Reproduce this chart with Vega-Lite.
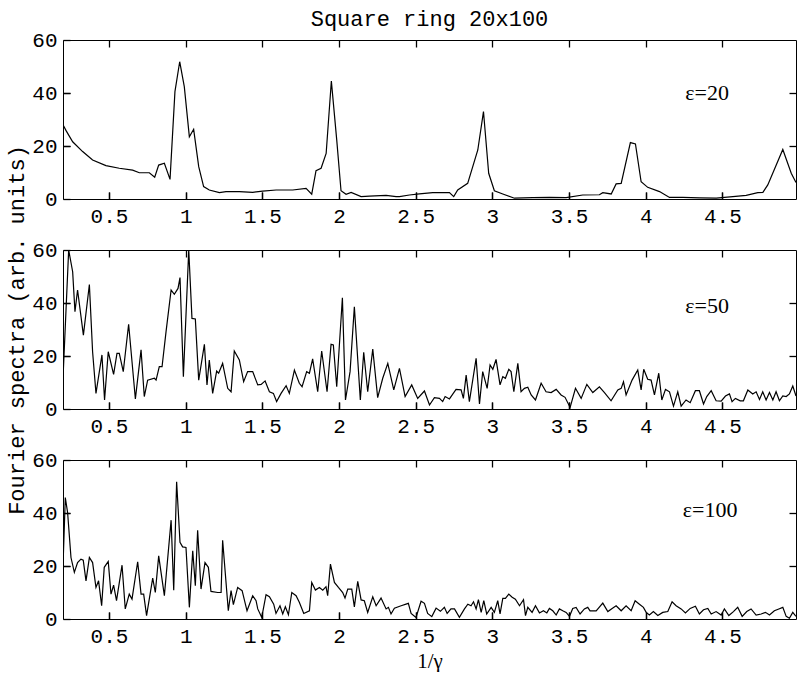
{
"$schema": "https://vega.github.io/schema/vega-lite/v6.json",
"background": "white",
"padding": {"left": 5, "top": 7, "right": 0, "bottom": 0},
"config": {
  "view": {"stroke": "black", "strokeWidth": 1},
  "axis": {"grid": false, "domain": false, "ticks": true, "zindex": 2, "tickColor": "black", "tickOpacity": 1, "tickWidth": 1.3, "tickSize": 7, "offset": -7, "labelFont": "Liberation Mono", "labelFontSize": 21, "labelColor": "black", "titleColor": "black", "labelFontWeight": "normal"},
  "title": {"font": "Liberation Mono", "fontSize": 22, "fontWeight": "normal", "color": "black"}
},
"datasets": {
"p20": [{"x":0.2,"y":28},{"x":0.22,"y":25.8},{"x":0.263,"y":21.6},{"x":0.328,"y":17.9},{"x":0.393,"y":14.7},{"x":0.48,"y":12.6},{"x":0.567,"y":11.6},{"x":0.654,"y":10.9},{"x":0.698,"y":9.9},{"x":0.763,"y":9.9},{"x":0.798,"y":8.2},{"x":0.824,"y":12.8},{"x":0.861,"y":13.5},{"x":0.898,"y":7.4},{"x":0.93,"y":40.5},{"x":0.961,"y":51.8},{"x":0.991,"y":42.4},{"x":1.024,"y":23.5},{"x":1.052,"y":26.3},{"x":1.085,"y":12.2},{"x":1.117,"y":4.7},{"x":1.154,"y":3.4},{"x":1.22,"y":2.4},{"x":1.263,"y":2.8},{"x":1.35,"y":2.8},{"x":1.437,"y":2.5},{"x":1.502,"y":3},{"x":1.59,"y":3.4},{"x":1.698,"y":3.4},{"x":1.785,"y":4.0},{"x":1.822,"y":1.8},{"x":1.85,"y":10.7},{"x":1.883,"y":11.6},{"x":1.916,"y":17.2},{"x":1.95,"y":44.5},{"x":1.985,"y":22.3},{"x":2.013,"y":3.1},{"x":2.046,"y":1.8},{"x":2.079,"y":2.5},{"x":2.144,"y":0.9},{"x":2.198,"y":1.1},{"x":2.307,"y":1.4},{"x":2.372,"y":0.9},{"x":2.394,"y":0.9},{"x":2.459,"y":1.5},{"x":2.524,"y":1.9},{"x":2.611,"y":2.4},{"x":2.72,"y":2.4},{"x":2.748,"y":0.9},{"x":2.774,"y":3.4},{"x":2.839,"y":5.9},{"x":2.905,"y":18.5},{"x":2.942,"y":33},{"x":2.976,"y":9.7},{"x":3.013,"y":3.1},{"x":3.068,"y":1.9},{"x":3.144,"y":0.3},{"x":3.263,"y":0.5},{"x":3.372,"y":0.6},{"x":3.481,"y":0.5},{"x":3.589,"y":1.5},{"x":3.698,"y":1.6},{"x":3.72,"y":2.4},{"x":3.775,"y":1.9},{"x":3.807,"y":5.7},{"x":3.84,"y":5.9},{"x":3.9,"y":21.3},{"x":3.933,"y":20.8},{"x":3.97,"y":6.5},{"x":4.013,"y":4.4},{"x":4.09,"y":2.8},{"x":4.155,"y":0.6},{"x":4.242,"y":0.6},{"x":4.351,"y":0.4},{"x":4.46,"y":0.3},{"x":4.568,"y":0.9},{"x":4.655,"y":1.4},{"x":4.731,"y":2.4},{"x":4.764,"y":2.5},{"x":4.796,"y":5.3},{"x":4.894,"y":18.7},{"x":4.949,"y":9.7},{"x":4.98,"y":6.2}],
"p50": [{"x":0.2,"y":11.6},{"x":0.237,"y":60},{"x":0.263,"y":51.8},{"x":0.278,"y":36.7},{"x":0.295,"y":44.9},{"x":0.333,"y":27.9},{"x":0.372,"y":47},{"x":0.393,"y":21.6},{"x":0.415,"y":5.9},{"x":0.454,"y":20.4},{"x":0.471,"y":3.4},{"x":0.495,"y":21.6},{"x":0.53,"y":13.1},{"x":0.552,"y":21},{"x":0.567,"y":21},{"x":0.593,"y":14.1},{"x":0.628,"y":32},{"x":0.672,"y":3.8},{"x":0.709,"y":22.3},{"x":0.73,"y":4.7},{"x":0.752,"y":10.9},{"x":0.796,"y":11.6},{"x":0.807,"y":10.9},{"x":0.828,"y":16},{"x":0.846,"y":16},{"x":0.872,"y":29.2},{"x":0.905,"y":44.9},{"x":0.926,"y":43.3},{"x":0.95,"y":45.5},{"x":0.963,"y":49.6},{"x":0.985,"y":12.2},{"x":1.02,"y":60},{"x":1.041,"y":34.2},{"x":1.063,"y":34},{"x":1.085,"y":10.9},{"x":1.122,"y":24.4},{"x":1.139,"y":9.1},{"x":1.154,"y":18.5},{"x":1.176,"y":5.9},{"x":1.202,"y":14.3},{"x":1.215,"y":13.5},{"x":1.241,"y":17.2},{"x":1.274,"y":7.8},{"x":1.296,"y":6.5},{"x":1.317,"y":21.9},{"x":1.35,"y":18.5},{"x":1.378,"y":10.3},{"x":1.404,"y":14.1},{"x":1.437,"y":14.1},{"x":1.47,"y":9.1},{"x":1.492,"y":9.3},{"x":1.518,"y":10.6},{"x":1.546,"y":6.5},{"x":1.572,"y":5.9},{"x":1.593,"y":2.8},{"x":1.622,"y":5.9},{"x":1.655,"y":8.8},{"x":1.676,"y":5.9},{"x":1.709,"y":14.7},{"x":1.741,"y":9.7},{"x":1.759,"y":8.4},{"x":1.789,"y":14.1},{"x":1.807,"y":13.5},{"x":1.828,"y":18.9},{"x":1.861,"y":6.5},{"x":1.887,"y":21.9},{"x":1.922,"y":6.5},{"x":1.948,"y":24.4},{"x":1.963,"y":24.2},{"x":1.985,"y":8.4},{"x":2.022,"y":42},{"x":2.042,"y":3.4},{"x":2.072,"y":14.1},{"x":2.1,"y":38.6},{"x":2.139,"y":3.4},{"x":2.161,"y":21.4},{"x":2.187,"y":6.5},{"x":2.22,"y":22.6},{"x":2.252,"y":4.3},{"x":2.285,"y":11.6},{"x":2.318,"y":17.2},{"x":2.357,"y":7.2},{"x":2.394,"y":15.3},{"x":2.431,"y":4.7},{"x":2.474,"y":9.1},{"x":2.513,"y":4.0},{"x":2.557,"y":6.8},{"x":2.59,"y":1.5},{"x":2.622,"y":4.3},{"x":2.655,"y":4.0},{"x":2.676,"y":2.8},{"x":2.692,"y":4.7},{"x":2.72,"y":3.8},{"x":2.763,"y":7.4},{"x":2.796,"y":7.2},{"x":2.811,"y":4.0},{"x":2.829,"y":12.8},{"x":2.85,"y":2.8},{"x":2.894,"y":19.1},{"x":2.916,"y":1.9},{"x":2.937,"y":14.1},{"x":2.966,"y":7.8},{"x":2.985,"y":16.6},{"x":3.003,"y":15},{"x":3.024,"y":18.7},{"x":3.05,"y":9.1},{"x":3.068,"y":12.2},{"x":3.085,"y":11.6},{"x":3.107,"y":15},{"x":3.122,"y":14.1},{"x":3.14,"y":6.5},{"x":3.166,"y":17.2},{"x":3.187,"y":6.5},{"x":3.209,"y":7.8},{"x":3.231,"y":8.2},{"x":3.253,"y":5.3},{"x":3.281,"y":3.4},{"x":3.318,"y":9.7},{"x":3.35,"y":6.5},{"x":3.383,"y":6.2},{"x":3.416,"y":7.4},{"x":3.448,"y":5.3},{"x":3.474,"y":4.4},{"x":3.507,"y":0.6},{"x":3.542,"y":7.8},{"x":3.579,"y":4.0},{"x":3.616,"y":9.3},{"x":3.655,"y":6.2},{"x":3.698,"y":8.4},{"x":3.731,"y":6.2},{"x":3.774,"y":3.1},{"x":3.818,"y":7.2},{"x":3.84,"y":7.8},{"x":3.855,"y":10.3},{"x":3.872,"y":5.3},{"x":3.911,"y":10.9},{"x":3.948,"y":14.7},{"x":3.97,"y":7.2},{"x":3.987,"y":15},{"x":4.013,"y":11.2},{"x":4.035,"y":10.9},{"x":4.057,"y":5.3},{"x":4.085,"y":13.5},{"x":4.105,"y":3.4},{"x":4.129,"y":7.4},{"x":4.155,"y":6.5},{"x":4.181,"y":1.1},{"x":4.209,"y":6.5},{"x":4.231,"y":1.1},{"x":4.263,"y":3.4},{"x":4.29,"y":2.4},{"x":4.324,"y":6.9},{"x":4.35,"y":6.9},{"x":4.377,"y":1.9},{"x":4.398,"y":4.7},{"x":4.427,"y":6.9},{"x":4.459,"y":3.1},{"x":4.492,"y":3.0},{"x":4.52,"y":4.9},{"x":4.546,"y":5.7},{"x":4.563,"y":2.8},{"x":4.585,"y":4.0},{"x":4.616,"y":3.1},{"x":4.637,"y":3.1},{"x":4.666,"y":7.2},{"x":4.698,"y":5.7},{"x":4.72,"y":6.5},{"x":4.742,"y":3.6},{"x":4.763,"y":6.5},{"x":4.785,"y":3.4},{"x":4.807,"y":6.2},{"x":4.829,"y":3.4},{"x":4.85,"y":6.5},{"x":4.872,"y":3.1},{"x":4.894,"y":4.9},{"x":4.916,"y":4.7},{"x":4.937,"y":5.7},{"x":4.959,"y":8.7},{"x":4.98,"y":4.9}],
"p100": [{"x":0.2,"y":20},{"x":0.215,"y":45.8},{"x":0.23,"y":40.2},{"x":0.252,"y":23.2},{"x":0.274,"y":17.6},{"x":0.295,"y":21.3},{"x":0.317,"y":22.6},{"x":0.332,"y":22.2},{"x":0.35,"y":14.4},{"x":0.372,"y":23.2},{"x":0.393,"y":21.3},{"x":0.415,"y":11.9},{"x":0.432,"y":14.4},{"x":0.452,"y":5.0},{"x":0.469,"y":19.5},{"x":0.495,"y":21.7},{"x":0.513,"y":9.4},{"x":0.53,"y":12.8},{"x":0.549,"y":6.9},{"x":0.585,"y":20.3},{"x":0.606,"y":3.8},{"x":0.632,"y":9.4},{"x":0.65,"y":7.5},{"x":0.687,"y":21.6},{"x":0.709,"y":9.4},{"x":0.726,"y":9.4},{"x":0.745,"y":1.3},{"x":0.785,"y":15.4},{"x":0.802,"y":10.0},{"x":0.824,"y":23.8},{"x":0.861,"y":8.8},{"x":0.905,"y":37.3},{"x":0.922,"y":10.9},{"x":0.941,"y":51.8},{"x":0.963,"y":28.9},{"x":0.98,"y":27.2},{"x":1.002,"y":27},{"x":1.024,"y":4.4},{"x":1.046,"y":25.7},{"x":1.063,"y":12.6},{"x":1.078,"y":33.5},{"x":1.1,"y":11.3},{"x":1.126,"y":21.3},{"x":1.148,"y":19.5},{"x":1.165,"y":10.4},{"x":1.209,"y":10},{"x":1.231,"y":10},{"x":1.241,"y":29.7},{"x":1.278,"y":3.1},{"x":1.296,"y":10.7},{"x":1.311,"y":5.4},{"x":1.339,"y":11.9},{"x":1.368,"y":10.7},{"x":1.4,"y":3.1},{"x":1.437,"y":8.8},{"x":1.459,"y":6.9},{"x":1.47,"y":3.8},{"x":1.496,"y":0.6},{"x":1.524,"y":9.2},{"x":1.546,"y":8.4},{"x":1.574,"y":5.6},{"x":1.589,"y":2.1},{"x":1.615,"y":5.0},{"x":1.633,"y":1.9},{"x":1.65,"y":4.6},{"x":1.67,"y":1.6},{"x":1.692,"y":10},{"x":1.72,"y":8.8},{"x":1.741,"y":6.3},{"x":1.77,"y":2.1},{"x":1.807,"y":3.1},{"x":1.822,"y":13.8},{"x":1.846,"y":10.9},{"x":1.872,"y":11.9},{"x":1.894,"y":10.9},{"x":1.915,"y":12.2},{"x":1.926,"y":8.8},{"x":1.944,"y":20.7},{"x":1.97,"y":13.8},{"x":1.996,"y":11.9},{"x":2.024,"y":10},{"x":2.039,"y":7.9},{"x":2.057,"y":11.3},{"x":2.083,"y":11.3},{"x":2.1,"y":4.6},{"x":2.122,"y":14.2},{"x":2.144,"y":7.2},{"x":2.165,"y":6.9},{"x":2.187,"y":2.5},{"x":2.22,"y":8.4},{"x":2.242,"y":5.0},{"x":2.274,"y":7.9},{"x":2.307,"y":3.8},{"x":2.322,"y":4.4},{"x":2.339,"y":1.9},{"x":2.361,"y":4.1},{"x":2.405,"y":5.0},{"x":2.437,"y":5.6},{"x":2.452,"y":5.9},{"x":2.47,"y":2.1},{"x":2.502,"y":0.6},{"x":2.535,"y":6.7},{"x":2.557,"y":5.9},{"x":2.578,"y":2.1},{"x":2.605,"y":0.9},{"x":2.633,"y":4.1},{"x":2.661,"y":2.9},{"x":2.687,"y":4.4},{"x":2.705,"y":2.1},{"x":2.73,"y":3.8},{"x":2.753,"y":3.8},{"x":2.785,"y":0.6},{"x":2.818,"y":3.8},{"x":2.84,"y":5.6},{"x":2.861,"y":5.0},{"x":2.877,"y":6.5},{"x":2.894,"y":3.8},{"x":2.909,"y":7.3},{"x":2.927,"y":2.5},{"x":2.944,"y":6.9},{"x":2.963,"y":1.9},{"x":2.992,"y":4.4},{"x":3.013,"y":2.5},{"x":3.035,"y":6.9},{"x":3.05,"y":1.9},{"x":3.068,"y":7.8},{"x":3.085,"y":7.8},{"x":3.107,"y":9.4},{"x":3.129,"y":8.2},{"x":3.15,"y":7.5},{"x":3.177,"y":5.0},{"x":3.203,"y":7.3},{"x":3.216,"y":1.3},{"x":3.231,"y":4.4},{"x":3.259,"y":2.5},{"x":3.281,"y":5.0},{"x":3.307,"y":2.3},{"x":3.333,"y":3.1},{"x":3.355,"y":2.3},{"x":3.372,"y":4.0},{"x":3.394,"y":3.1},{"x":3.416,"y":1.5},{"x":3.437,"y":3.8},{"x":3.459,"y":3.1},{"x":3.481,"y":2.5},{"x":3.503,"y":1.0},{"x":3.524,"y":4.0},{"x":3.546,"y":4.4},{"x":3.572,"y":1.9},{"x":3.6,"y":3.8},{"x":3.622,"y":4.4},{"x":3.637,"y":3.1},{"x":3.677,"y":3.1},{"x":3.72,"y":6.0},{"x":3.753,"y":2.8},{"x":3.781,"y":4.0},{"x":3.807,"y":5.0},{"x":3.84,"y":3.1},{"x":3.872,"y":5.0},{"x":3.905,"y":3.1},{"x":3.931,"y":6.9},{"x":3.959,"y":5.6},{"x":3.985,"y":4.4},{"x":4.003,"y":2.5},{"x":4.024,"y":1.5},{"x":4.05,"y":2.8},{"x":4.079,"y":1.3},{"x":4.111,"y":2.5},{"x":4.144,"y":2.8},{"x":4.172,"y":6.5},{"x":4.198,"y":5.0},{"x":4.231,"y":3.8},{"x":4.259,"y":2.3},{"x":4.29,"y":4.0},{"x":4.324,"y":4.8},{"x":4.35,"y":1.9},{"x":4.377,"y":3.5},{"x":4.405,"y":4.0},{"x":4.427,"y":1.9},{"x":4.459,"y":2.8},{"x":4.492,"y":1.5},{"x":4.513,"y":3.8},{"x":4.542,"y":1.3},{"x":4.572,"y":2.8},{"x":4.6,"y":4.4},{"x":4.629,"y":1.0},{"x":4.659,"y":2.8},{"x":4.687,"y":3.8},{"x":4.72,"y":1.5},{"x":4.753,"y":1.9},{"x":4.781,"y":2.5},{"x":4.807,"y":1.5},{"x":4.839,"y":3.1},{"x":4.868,"y":3.8},{"x":4.894,"y":4.4},{"x":4.916,"y":1.0},{"x":4.937,"y":0.3},{"x":4.959,"y":2.5},{"x":4.98,"y":1.0}]
},
"spacing": 51,
"bounds": "flush",
"vconcat": [
{
  "width": 733, "height": 159,
  "title": {"text": "Square ring 20x100", "frame": "group", "anchor": "middle", "offset": -2},
  "layer": [
    {"data": {"name": "p20"}, "mark": {"type": "line", "color": "black", "strokeWidth": 1.2, "clip": true},
     "encoding": {
       "x": {"field": "x", "type": "quantitative", "scale": {"domain": [0.2, 4.98], "nice": false, "zero": false}, "axis": {"orient": "bottom", "values": [0.5,1,1.5,2,2.5,3,3.5,4,4.5], "format": "~g", "labelPadding": 6, "title": null}},
       "y": {"field": "y", "type": "quantitative", "scale": {"domain": [0, 60], "nice": false}, "axis": {"orient": "left", "values": [0,20,40,60], "labelPadding": 6, "title": null}}
     }},
    {"data": {"values": [{}]}, "mark": {"type": "text", "font": "Liberation Serif", "fontSize": 22, "color": "black"},
     "encoding": {
       "x": {"datum": 4.4, "type": "quantitative", "axis": {"orient": "top", "values": [0.5,1,1.5,2,2.5,3,3.5,4,4.5], "labels": false, "title": null}},
       "y": {"datum": 40, "type": "quantitative", "axis": {"orient": "right", "values": [20,40], "labels": false, "title": null}},
       "text": {"value": "ε=20"}
     }},
    {"data": {"values": [{}]}, "mark": {"type": "text", "fontSize": 1, "color": "black"},
     "encoding": {
       "x": {"datum": 4.4, "type": "quantitative", "axis": {"orient": "bottom", "values": [0.5,1,1.5,2,2.5,3,3.5,4,4.5], "labels": false, "title": null}},
       "y": {"datum": 40, "type": "quantitative", "axis": {"orient": "left", "values": [20,40], "labels": false, "title": null}},
       "text": {"value": ""}
     }}
  ],
  "resolve": {"axis": {"x": "independent", "y": "independent"}}
},
{
  "width": 733, "height": 159,
  "layer": [
    {"data": {"name": "p50"}, "mark": {"type": "line", "color": "black", "strokeWidth": 1.2, "clip": true},
     "encoding": {
       "x": {"field": "x", "type": "quantitative", "scale": {"domain": [0.2, 4.98], "nice": false, "zero": false}, "axis": {"orient": "bottom", "values": [0.5,1,1.5,2,2.5,3,3.5,4,4.5], "format": "~g", "labelPadding": 6, "title": null}},
       "y": {"field": "y", "type": "quantitative", "scale": {"domain": [0, 60], "nice": false}, "axis": {"orient": "left", "values": [0,20,40,60], "labelPadding": 6, "title": "Fourier spectra (arb. units)", "titleFont": "Liberation Mono", "titleFontSize": 22, "titleFontWeight": "normal", "titlePadding": 3}}
     }},
    {"data": {"values": [{}]}, "mark": {"type": "text", "font": "Liberation Serif", "fontSize": 22, "color": "black"},
     "encoding": {
       "x": {"datum": 4.4, "type": "quantitative", "axis": {"orient": "top", "values": [0.5,1,1.5,2,2.5,3,3.5,4,4.5], "labels": false, "title": null}},
       "y": {"datum": 39, "type": "quantitative", "axis": {"orient": "right", "values": [20,40], "labels": false, "title": null}},
       "text": {"value": "ε=50"}
     }},
    {"data": {"values": [{}]}, "mark": {"type": "text", "fontSize": 1, "color": "black"},
     "encoding": {
       "x": {"datum": 4.4, "type": "quantitative", "axis": {"orient": "bottom", "values": [0.5,1,1.5,2,2.5,3,3.5,4,4.5], "labels": false, "title": null}},
       "y": {"datum": 40, "type": "quantitative", "axis": {"orient": "left", "values": [20,40], "labels": false, "title": null}},
       "text": {"value": ""}
     }}
  ],
  "resolve": {"axis": {"x": "independent", "y": "independent"}}
},
{
  "width": 733, "height": 159,
  "layer": [
    {"data": {"name": "p100"}, "mark": {"type": "line", "color": "black", "strokeWidth": 1.2, "clip": true},
     "encoding": {
       "x": {"field": "x", "type": "quantitative", "scale": {"domain": [0.2, 4.98], "nice": false, "zero": false}, "axis": {"orient": "bottom", "values": [0.5,1,1.5,2,2.5,3,3.5,4,4.5], "format": "~g", "labelPadding": 6, "title": "1/γ", "titleFont": "Liberation Serif", "titleFontSize": 21, "titleFontWeight": "normal", "titlePadding": 4}},
       "y": {"field": "y", "type": "quantitative", "scale": {"domain": [0, 60], "nice": false}, "axis": {"orient": "left", "values": [0,20,40,60], "labelPadding": 6, "title": null}}
     }},
    {"data": {"values": [{}]}, "mark": {"type": "text", "font": "Liberation Serif", "fontSize": 22, "color": "black"},
     "encoding": {
       "x": {"datum": 4.42, "type": "quantitative", "axis": {"orient": "top", "values": [0.5,1,1.5,2,2.5,3,3.5,4,4.5], "labels": false, "title": null}},
       "y": {"datum": 41, "type": "quantitative", "axis": {"orient": "right", "values": [20,40], "labels": false, "title": null}},
       "text": {"value": "ε=100"}
     }},
    {"data": {"values": [{}]}, "mark": {"type": "text", "fontSize": 1, "color": "black"},
     "encoding": {
       "x": {"datum": 4.4, "type": "quantitative", "axis": {"orient": "bottom", "values": [0.5,1,1.5,2,2.5,3,3.5,4,4.5], "labels": false, "title": null}},
       "y": {"datum": 40, "type": "quantitative", "axis": {"orient": "left", "values": [20,40], "labels": false, "title": null}},
       "text": {"value": ""}
     }}
  ],
  "resolve": {"axis": {"x": "independent", "y": "independent"}}
}
]
}
